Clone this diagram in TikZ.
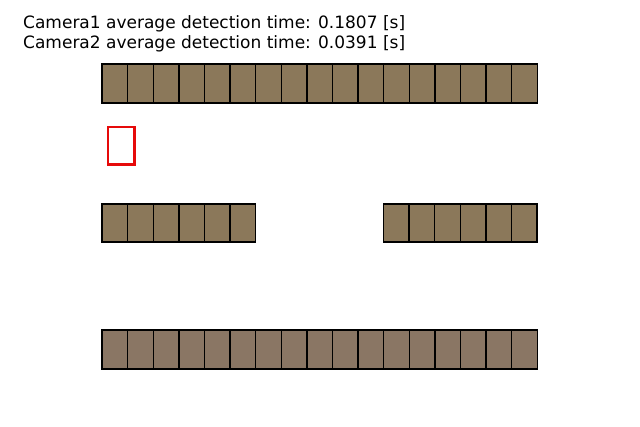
\documentclass[tikz,border=0pt]{standalone}
\usepackage{fontspec}
\setmainfont{DejaVu Sans}
\definecolor{cellA}{RGB}{139,120,90}
\definecolor{cellB}{RGB}{138,118,100}
\definecolor{redbox}{RGB}{230,10,10}
\tikzset{
  cell/.style={draw=black, line width=1.4pt, fill=cellA},
  cellb/.style={draw=black, line width=1.4pt, fill=cellB},
  label/.style={anchor=base west, inner sep=0pt, font=\fontsize{17}{19}\selectfont},
}
\begin{document}
\begin{tikzpicture}[x=1pt,y=-1pt]
\useasboundingbox[fill=white] (0,0) rectangle (640,427);
\node[label] (t1) at (23,29) {Camera1 average detection time: 0.1807 [s]};
\node[label] (t2) at (23,49) {Camera2 average detection time: 0.0391 [s]};
\def\w{25.6}
% top row
\foreach \i in {0,...,16}{
  \draw[cell] ({102+\i*\w},64) rectangle ({102+(\i+1)*\w},103);
}
% middle left
\foreach \i in {0,...,5}{
  \draw[cell] ({102+\i*\w},204) rectangle ({102+(\i+1)*\w},242);
}
% middle right
\foreach \i in {0,...,5}{
  \draw[cell] ({383.4+\i*\w},204) rectangle ({383.4+(\i+1)*\w},242);
}
% bottom row
\foreach \i in {0,...,16}{
  \draw[cellb] ({102+\i*\w},330) rectangle ({102+(\i+1)*\w},369);
}
% red box
\draw[draw=redbox, line width=2.5pt] (108,127) rectangle (134.5,164.5);
\end{tikzpicture}
\end{document}
